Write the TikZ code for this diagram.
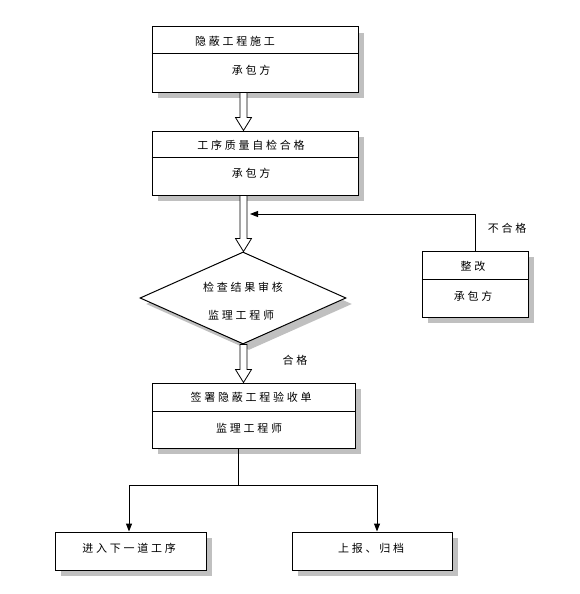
\documentclass[tikz,border=0pt]{standalone}
\usepackage{fontspec}
\newfontfamily\cjk[LetterSpace=25]{Noto Sans CJK SC}
\usetikzlibrary{shapes.geometric,shadows,arrows.meta,calc}
\definecolor{shadowgray}{RGB}{192,192,192}
\tikzset{
  box/.style={draw=black, line width=1pt, fill=white, rectangle, inner sep=0pt,
    drop shadow={shadow xshift=6pt, shadow yshift=-6pt, fill=shadowgray, opacity=1}},
  dia/.style={draw=black, line width=1pt, fill=white, diamond, inner sep=0pt,
    minimum width=206pt, minimum height=92pt, aspect=2.24,
    drop shadow={shadow xshift=6pt, shadow yshift=-6pt, fill=shadowgray, opacity=1}},
  txt/.style={font=\cjk\fontsize{11}{13}\selectfont, inner sep=0pt},
  fatarrow/.style={draw=black, line width=0.8pt, fill=white},
  conn/.style={draw=black, line width=1pt},
  tip/.style={-{Triangle[length=8pt,width=6pt]}}
}
\begin{document}
\begin{tikzpicture}[x=1pt,y=-1pt]
\useasboundingbox (0,0) rectangle (579,594);
% box 1
\node[box, minimum width=206pt, minimum height=65pt] (b1) at (255,59.5) {};
\draw[conn] ([yshift=-27pt]b1.north west) -- ([yshift=-27pt]b1.north east);
\node[txt] (b1a) at (235,41) {隐蔽工程施工};
\node[txt] (b1b) at (251,70) {承包方};
% box 2
\node[box, minimum width=206pt, minimum height=64pt] (b2) at (255,163) {};
\draw[conn] ([yshift=-27pt]b2.north west) -- ([yshift=-27pt]b2.north east);
\node[txt] (b2a) at (251,145) {工序质量自检合格};
\node[txt] (b2b) at (251,173) {承包方};
% diamond
\node[dia] (d) at (243,298) {};
\node[txt] (da) at (243,287) {检查结果审核};
\node[txt] (db) at (241,315) {监理工程师};
% box 4
\node[box, minimum width=203pt, minimum height=65pt] (b4) at (253.5,415.5) {};
\draw[conn] ([yshift=-29pt]b4.north west) -- ([yshift=-29pt]b4.north east);
\node[txt] (b4a) at (251,397) {签署隐蔽工程验收单};
\node[txt] (b4b) at (249,428) {监理工程师};
% fix box
\node[box, minimum width=106pt, minimum height=66pt] (fx) at (475,284) {};
\draw[conn] ([yshift=-29pt]fx.north west) -- ([yshift=-29pt]fx.north east);
\node[txt] (fxa) at (473,266) {整改};
\node[txt] (fxb) at (473,296) {承包方};
% bottom boxes
\node[box, minimum width=151pt, minimum height=38pt] (b5) at (130.5,551) {};
\node[txt] (b5a) at (129,548) {进入下一道工序};
\node[box, minimum width=160pt, minimum height=38pt] (b6) at (372,551) {};
\node[txt] (b6a) at (371,548) {上报、归档};
% hollow arrows
\foreach \s/\e in {b1/b2, b2/d, d/b4} {
  \path[fatarrow] let \p1=(\s.south), \p2=(\e.north) in
    (243.5-3.5,\y1) -- (243.5-3.5,\y2+13) -- (243.5-8,\y2+13) -- (243.5,\y2)
    -- (243.5+8,\y2+13) -- (243.5+3.5,\y2+13) -- (243.5+3.5,\y1) -- cycle;
}
% feedback
\coordinate (fb) at (250,214);
\draw[conn, tip] (fx.north) |- (fb);
\node[txt] (ng) at (507,228) {不合格};
\node[txt] (ok) at (295,360) {合格};
% split
\coordinate (split) at (238,485);
\draw[conn] (b4.south -| split) -- (split);
\draw[conn, tip] (split) -| ([xshift=-1.5pt]b5.north);
\draw[conn, tip] (split) -| ([xshift=5pt]b6.north);
\end{tikzpicture}
\end{document}
